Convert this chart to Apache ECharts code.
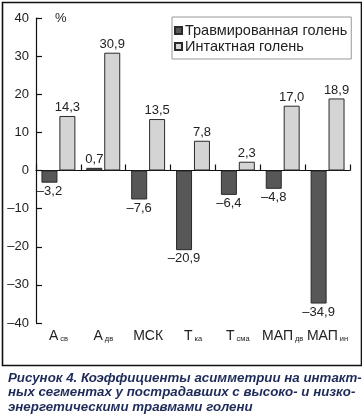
<!DOCTYPE html>
<html><head><meta charset="utf-8">
<script src="https://cdn.jsdelivr.net/npm/echarts@6/dist/echarts.min.js"></script>
<style>html,body{margin:0;padding:0;background:#fff}#c{width:362px;height:418px}</style>
</head><body><div id="c"></div>
<script>
var catMain = ['А','А','МСК','Т','Т','МАП','МАП'];
var catSub = ['св','дв','','ка','сма','дв','ин'];
var injured = [-3.2, 0.7, -7.6, -20.9, -6.4, -4.8, -34.9];
var intact = [14.3, 30.9, 13.5, 7.8, 2.3, 17.0, 18.9];
var seriesNames = ['Травмированная голень','Интактная голень'];
var yTicks = [-40,-30,-20,-10,0,10,20,30,40];

var cats = catMain.map(function(m,i){return m+'|'+catSub[i];});
function fmtNum(v){return v.toFixed(1).replace('.',',').replace('-','–');}
function items(arr){
  return arr.map(function(v){
    return {value:v, label:{position: v<0?'bottom':'top'}};
  });
}
var font = 'Liberation Sans, Arial, sans-serif';
var chart = echarts.init(document.getElementById('c'));
chart.setOption({
  animation:false,
  backgroundColor:'#fff',
  textStyle:{fontFamily:font},
  grid:{left:36,right:12,top:18,bottom:95,containLabel:false},
  legend:{
    orient:'vertical', left:172, top:17,
    data:seriesNames, icon:'rect', itemWidth:7, itemHeight:7, itemGap:1,
    borderColor:'#999', borderWidth:1, padding:[6,4,5,2],
    textStyle:{fontFamily:font,fontSize:14.5,color:'#222',padding:[0,0,0,-2]}
  },
  title:{
    text:'Рисунок 4. Коэффициенты асимметрии на интакт-\nных сегментах у пострадавших с высоко- и низко-\nэнергетическими травмами голени',
    left:3, top:366,
    textStyle:{fontFamily:font,fontSize:13.3,fontWeight:'bold',fontStyle:'italic',color:'#1e2b58',lineHeight:14.5}
  },
  graphic:[
    {type:'rect',left:0,top:0,shape:{x:1,y:1,width:359,height:363},style:{fill:null,stroke:'#111',lineWidth:1.6},silent:true},
    {type:'text',left:55,top:12,style:{text:'%',font:'13px '+font,fill:'#222'}}
  ],
  xAxis:[{
    type:'category', data:cats, position:'bottom',
    axisLine:{onZero:true,lineStyle:{color:'#111',width:1.2}},
    axisTick:{show:true,inside:true,length:6,interval:0,lineStyle:{color:'#111',width:1.2}},
    axisLabel:{show:false}
  },{
    type:'category', data:cats, position:'bottom',
    axisLine:{show:false,onZero:false}, axisTick:{show:false},
    axisLabel:{
      margin:6, interval:0,
      formatter:function(v){var p=v.split('|');return p[1]?'{m|'+p[0]+'}{s|'+p[1]+'}':'{m|'+p[0]+'}';},
      rich:{
        m:{fontFamily:font,fontSize:14,color:'#222'},
        s:{fontFamily:font,fontSize:7.5,color:'#222',padding:[6,0,0,2]}
      }
    }
  }],
  yAxis:{
    type:'value', min:-40, max:40, interval:10,
    axisLine:{show:true,lineStyle:{color:'#111',width:1.2}},
    axisTick:{show:true,inside:true,length:6,lineStyle:{color:'#111',width:1.2}},
    splitLine:{show:false},
    axisLabel:{margin:7,fontFamily:font,fontSize:13,color:'#222',formatter:function(v){return String(v).replace('-','–');}}
  },
  series:[{
    name:seriesNames[0], type:'bar', data:items(injured), barWidth:16, barGap:'12%',
    itemStyle:{color:'#575757',borderColor:'#2a2a2a',borderWidth:1},
    label:{show:true,distance:2,fontFamily:font,fontSize:13,color:'#222',formatter:function(p){return fmtNum(p.value);}}
  },{
    name:seriesNames[1], type:'bar', data:items(intact), barWidth:16, barGap:'12%',
    itemStyle:{color:'#d4d4d4',borderColor:'#2a2a2a',borderWidth:1},
    label:{show:true,distance:2,fontFamily:font,fontSize:13,color:'#222',formatter:function(p){return fmtNum(p.value);}}
  }]
});
</script></body></html>
